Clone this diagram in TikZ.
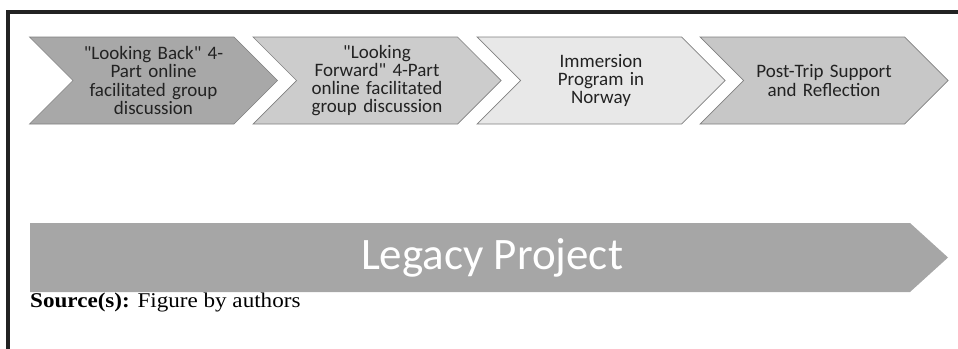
\documentclass[tikz,border=0pt]{standalone}
\usepackage{fontspec}
\usepackage{graphicx}
\setmainfont{Carlito}
\newfontfamily\srcfont{Liberation Serif}
\usetikzlibrary{shapes}
\usetikzlibrary{shapes.symbols}
\pgfdeclarelayer{edgelayer}
\pgfdeclarelayer{nodelayer}
\pgfsetlayers{edgelayer,nodelayer,main}
\definecolor{ink}{RGB}{34,34,34}
\definecolor{rim}{RGB}{128,128,128}
\definecolor{band}{RGB}{166,166,166}
\newcommand{\dq}{\textquotedbl}
\tikzstyle{phase}=[signal, signal to=east, signal from=west, signal pointer angle=90,
	minimum width=248pt, minimum height=87pt, inner sep=0pt, draw=rim, line width=0.7pt,
	text=ink, text width=150pt, align=center, font=\fontsize{19}{18.3}\selectfont]
\tikzstyle{legacy}=[inner sep=0pt, text=white, font=\fontsize{45}{45}\selectfont]

\begin{document}
\begin{tikzpicture}[x=1pt, y=-1pt]
	\useasboundingbox (0, 0) rectangle (958, 348);
	\begin{pgfonlayer}{nodelayer}
		\node [style=phase, fill=black!34] (0) at (153.5, 80.5) {\dq Looking Back\dq{} 4-\\Part online\\facilitated group\\discussion};
		\node [style=phase, fill=black!20] (1) at (377, 80.5) {\dq Looking\\Forward\dq{} 4-Part\\online facilitated\\group discussion};
		\node [style=phase, fill=black!9] (2) at (601, 80.5) {Immersion\\Program in\\Norway};
		\node [style=phase, fill=black!22] (3) at (824, 80.5) {Post-Trip Support\\and Reflection};
		\node [style=legacy] (4) at (492, 257.5) {Legacy Project};
		\node [anchor=base west, inner sep=0pt, text=black] (5) at (30, 307.5)
			{\srcfont\fontsize{21}{24}\selectfont\scalebox{1.1}[1]{\textbf{Source(s):} Figure by authors}};
	\end{pgfonlayer}
	\begin{pgfonlayer}{edgelayer}
		% box round the figure, only top and left edges show
		\draw [line width=3.5pt, color=ink] (962, 12) -- (8, 12) -- (8, 352);
		% long arrow under the four phases
		\fill [band] (30, 223) -- (910, 223) -- (948, 257.5) -- (910, 292) -- (30, 292) -- cycle;
	\end{pgfonlayer}
\end{tikzpicture}
\end{document}
